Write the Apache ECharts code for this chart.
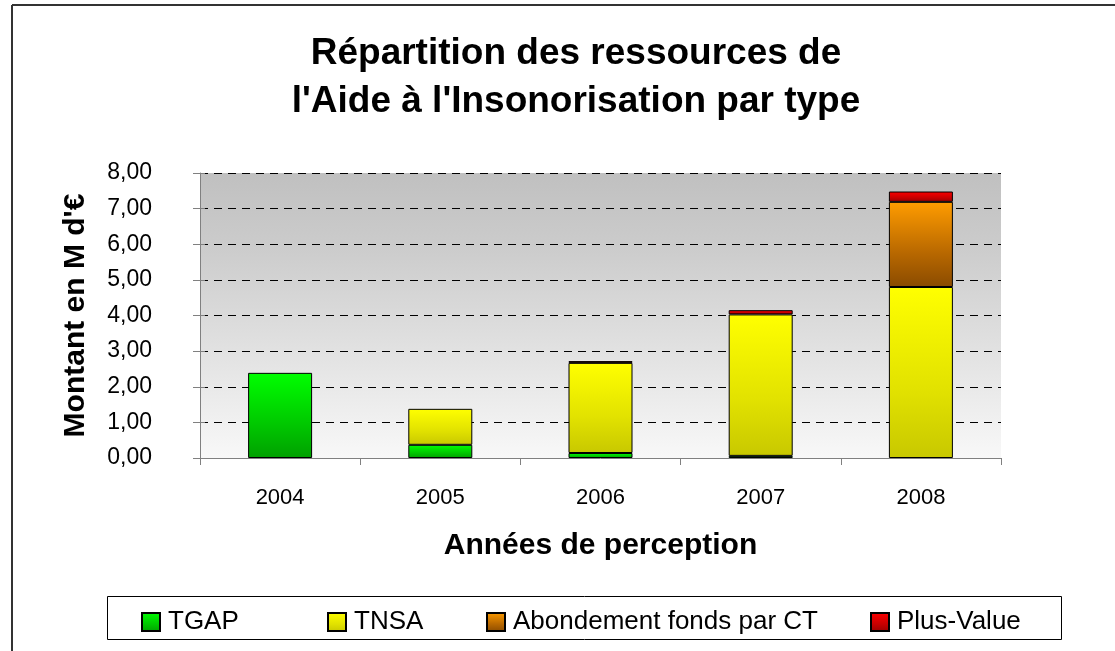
<!DOCTYPE html>
<html>
<head>
<meta charset="utf-8">
<script src="https://cdn.jsdelivr.net/npm/echarts@6/dist/echarts.min.js"></script>
<style>
  html, body { margin: 0; padding: 0; background: #fff; }
  #chart { width: 1115px; height: 651px; }
</style>
</head>
<body>
<div id="chart"></div>
<script>
// années et montants (M d'€)
var years = ['2004', '2005', '2006', '2007', '2008'];
var tgap = [2.39, 0.37, 0.14, 0.06, null];
var tnsa = [null, 1.01, 2.53, 3.97, 4.80];
var abondement = [null, null, null, null, 2.39];
var plusValue = [null, null, 0.05, 0.12, 0.29];
var yTicks = [0, 1, 2, 3, 4, 5, 6, 7, 8];

var FONT = '"Liberation Sans", Arial, sans-serif';

function grad(top, mid, bottom) {
    return new echarts.graphic.LinearGradient(0, 0, 0, 1, [
        {offset: 0, color: top},
        {offset: 0.6, color: mid},
        {offset: 1, color: bottom}
    ]);
}

function barSeries(name, data, color) {
    return {
        name: name,
        type: 'bar',
        stack: 'total',
        barWidth: 64,
        data: data,
        itemStyle: {color: color, borderColor: '#000', borderWidth: 1}
    };
}

function legendAt(name, x) {
    return {
        data: [name],
        left: x,
        top: 609,
        padding: 0,
        itemWidth: 18,
        itemHeight: 18,
        icon: 'rect',
        textStyle: {fontFamily: FONT, fontSize: 26, color: '#000', padding: [0, 0, 0, 3]}
    };
}

var chart = echarts.init(document.getElementById('chart'));
chart.setOption({
    animation: false,
    title: {
        text: 'Répartition des ressources de\nl\'Aide à l\'Insonorisation par type',
        left: 571,
        top: 25,
        textAlign: 'center',
        textStyle: {fontFamily: FONT, fontSize: 37, fontWeight: 'bold', color: '#000', lineHeight: 48}
    },
    legend: [
        legendAt('TGAP', 141),
        legendAt('TNSA', 327),
        legendAt('Abondement fonds par CT', 486),
        legendAt('Plus-Value', 870)
    ],
    grid: {
        left: 200, right: 114, top: 173, bottom: 193,
        show: true,
        borderWidth: 0,
        backgroundColor: new echarts.graphic.LinearGradient(0, 0, 0, 1, [
            {offset: 0, color: '#c0c0c0'},
            {offset: 0.25, color: '#cbcbcb'},
            {offset: 1, color: '#f8f8f8'}
        ])
    },
    xAxis: {
        type: 'category',
        data: years,
        name: 'Années de perception',
        nameLocation: 'middle',
        nameGap: 73,
        nameTextStyle: {fontFamily: FONT, fontSize: 30, fontWeight: 'bold', color: '#000'},
        axisLine: {lineStyle: {color: '#808080', width: 1}},
        axisTick: {show: true, length: 7, lineStyle: {color: '#808080'}},
        axisLabel: {fontFamily: FONT, fontSize: 22, color: '#000', margin: 29}
    },
    yAxis: [{
        type: 'value',
        min: yTicks[0],
        max: yTicks[yTicks.length - 1],
        interval: 1,
        name: 'Montant en M d\'€',
        nameLocation: 'middle',
        nameRotate: 90,
        nameGap: 109,
        nameTextStyle: {fontFamily: FONT, fontSize: 30, fontWeight: 'bold', color: '#000'},
        axisLine: {show: true, lineStyle: {color: '#808080', width: 1}},
        axisTick: {show: true, length: 7, lineStyle: {color: '#808080'}},
        axisLabel: {
            fontFamily: FONT, fontSize: 23, color: '#000', margin: 48,
            formatter: function (v) { return v.toFixed(2).replace('.', ','); }
        },
        splitLine: {lineStyle: {color: '#000', width: 1, type: [8, 6]}}
    }, {
        // petits traits vers l'intérieur, pour des graduations croisées
        type: 'value',
        position: 'left',
        min: yTicks[0],
        max: yTicks[yTicks.length - 1],
        interval: 1,
        axisLine: {show: false},
        axisTick: {show: true, inside: true, length: 5, lineStyle: {color: '#808080'}},
        axisLabel: {show: false},
        splitLine: {show: false}
    }],
    series: [
        barSeries('TGAP', tgap, grad('#00ff00', '#00c800', '#00a000')),
        barSeries('TNSA', tnsa, grad('#ffff00', '#e2e200', '#c8c800')),
        barSeries('Abondement fonds par CT', abondement, grad('#ff9c00', '#b86800', '#8a4b00')),
        barSeries('Plus-Value', plusValue, grad('#ff0000', '#c80000', '#990000'))
    ],
    graphic: [
        {type: 'line', shape: {x1: 12, y1: 5, x2: 1115, y2: 5}, style: {stroke: '#333', lineWidth: 2}},
        {type: 'line', shape: {x1: 12, y1: 5, x2: 12, y2: 651}, style: {stroke: '#333', lineWidth: 2}},
        {type: 'rect', shape: {x: 107.5, y: 596.5, width: 954, height: 43}, style: {fill: 'none', stroke: '#000', lineWidth: 1}}
    ]
});
</script>
</body>
</html>
